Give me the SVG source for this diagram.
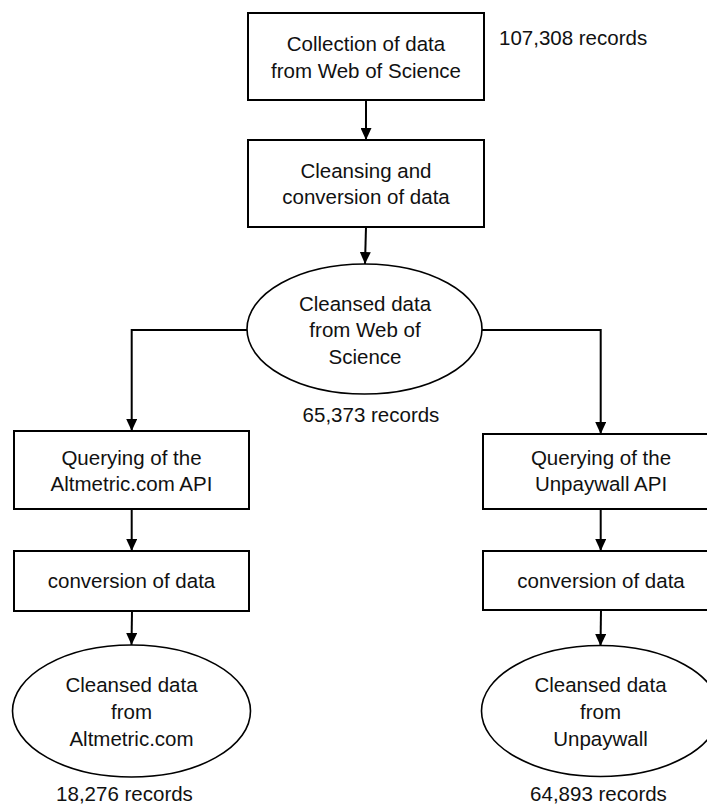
<svg xmlns="http://www.w3.org/2000/svg" width="707" height="807" viewBox="0 0 707 807">
  <style>
    .box { fill: #ffffff; stroke: #000000; stroke-width: 2; }
    .ell { fill: #ffffff; stroke: #000000; stroke-width: 1.6; }
    .lbl { font-family: "Liberation Sans", Arial, sans-serif; font-size: 20.5px; fill: #111111; text-anchor: middle; }
    .note { font-family: "Liberation Sans", Arial, sans-serif; font-size: 20.5px; fill: #111111; }
    .conn { fill: none; stroke: #000000; stroke-width: 2; marker-end: url(#arrow); }
  </style>
  <defs>
    <marker id="arrow" markerUnits="userSpaceOnUse" markerWidth="12" markerHeight="11" refX="12" refY="5.5" orient="auto">
      <path d="M0,0 L12,5.5 L0,11 z" fill="#000000"/>
    </marker>
  </defs>
  <rect width="707" height="807" fill="#ffffff"/>

  <g id="connectors">
    <line class="conn" x1="366" y1="100" x2="366" y2="140"/>
    <line class="conn" x1="366" y1="227" x2="365" y2="264"/>
    <polyline class="conn" points="247,330 131.7,330 131.7,431"/>
    <polyline class="conn" points="482,330 600.7,330 600.7,434"/>
    <line class="conn" x1="131.7" y1="509" x2="131.7" y2="551"/>
    <line class="conn" x1="600.7" y1="509" x2="600.7" y2="551"/>
    <line class="conn" x1="132" y1="611" x2="131.5" y2="645"/>
    <line class="conn" x1="601" y1="610" x2="600.5" y2="646"/>
  </g>

  <g id="collection">
    <rect class="box" x="248" y="13" width="236" height="87"/>
    <text class="lbl" x="366" y="51">Collection of data</text>
    <text class="lbl" x="366" y="78">from Web of Science</text>
  </g>
  <text id="note-107308" class="note" x="499" y="45">107,308 records</text>

  <g id="cleansing">
    <rect class="box" x="248" y="140" width="236" height="87"/>
    <text class="lbl" x="366" y="178">Cleansing and</text>
    <text class="lbl" x="366" y="204">conversion of data</text>
  </g>

  <g id="cleansed-wos">
    <ellipse class="ell" cx="364.5" cy="329" rx="117.5" ry="65"/>
    <text class="lbl" x="365" y="311">Cleansed data</text>
    <text class="lbl" x="365" y="337">from Web of</text>
    <text class="lbl" x="365" y="364">Science</text>
  </g>
  <text id="note-65373" class="lbl" x="371" y="421.5">65,373 records</text>

  <g id="query-altmetric">
    <rect class="box" x="14" y="431" width="235" height="78"/>
    <text class="lbl" x="131.5" y="465">Querying of the</text>
    <text class="lbl" x="131.5" y="491">Altmetric.com API</text>
  </g>

  <g id="query-unpaywall">
    <rect class="box" x="483" y="434" width="235" height="75"/>
    <text class="lbl" x="601" y="465">Querying of the</text>
    <text class="lbl" x="601" y="491">Unpaywall API</text>
  </g>

  <g id="convert-altmetric">
    <rect class="box" x="14" y="551" width="235" height="60"/>
    <text class="lbl" x="131.5" y="588">conversion of data</text>
  </g>

  <g id="convert-unpaywall">
    <rect class="box" x="483" y="551" width="235" height="59"/>
    <text class="lbl" x="601" y="588">conversion of data</text>
  </g>

  <g id="cleansed-altmetric">
    <ellipse class="ell" cx="131.5" cy="711" rx="119" ry="66"/>
    <text class="lbl" x="131.5" y="692">Cleansed data</text>
    <text class="lbl" x="131.5" y="719">from</text>
    <text class="lbl" x="131.5" y="746">Altmetric.com</text>
  </g>
  <text id="note-18276" class="lbl" x="124.5" y="801">18,276 records</text>

  <g id="cleansed-unpaywall">
    <ellipse class="ell" cx="600.5" cy="711" rx="119" ry="65.5"/>
    <text class="lbl" x="600.5" y="692">Cleansed data</text>
    <text class="lbl" x="600.5" y="719">from</text>
    <text class="lbl" x="600.5" y="746">Unpaywall</text>
  </g>
  <text id="note-64893" class="lbl" x="598.5" y="801">64,893 records</text>
</svg>
